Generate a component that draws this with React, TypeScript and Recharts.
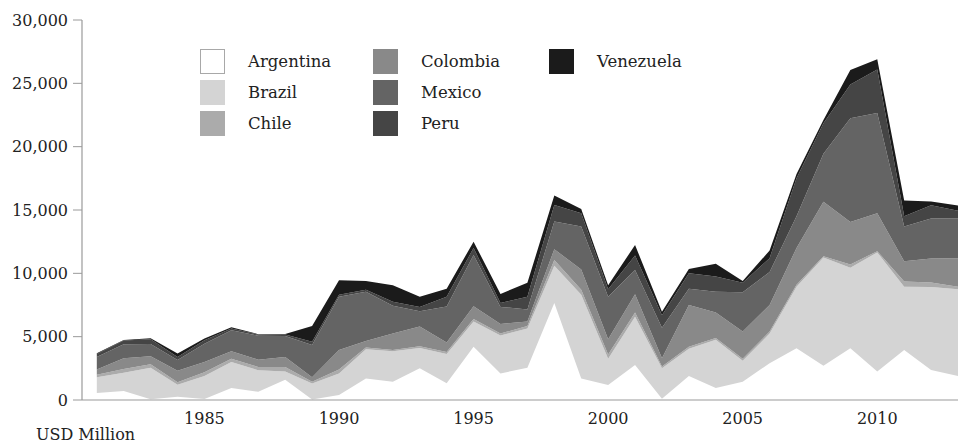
import React from 'react';
import { AreaChart, Area, XAxis, YAxis, Legend } from 'recharts';

const years = [1981, 1982, 1983, 1984, 1985, 1986, 1987, 1988, 1989, 1990, 1991, 1992, 1993, 1994, 1995, 1996, 1997, 1998, 1999, 2000, 2001, 2002, 2003, 2004, 2005, 2006, 2007, 2008, 2009, 2010, 2011, 2012, 2013];

const argentina = [550, 720, 50, 250, 70, 950, 650, 1600, 30, 400, 1700, 1450, 2500, 1330, 4200, 2100, 2550, 7650, 1700, 1180, 2760, 100, 1900, 950, 1450, 2900, 4080, 2700, 4080, 2250, 3950, 2370, 1900];
const brazil = [1250, 1430, 2500, 950, 1830, 2050, 1700, 650, 1270, 1700, 2300, 2400, 1600, 2300, 2000, 3000, 3100, 2950, 6600, 2070, 3820, 2400, 2150, 3800, 1650, 2350, 4870, 8550, 6370, 9400, 5000, 6550, 6850];
const chile = [200, 300, 270, 200, 300, 250, 250, 350, 150, 300, 150, 100, 150, 150, 200, 150, 200, 450, 400, 350, 320, 150, 150, 150, 150, 150, 150, 100, 250, 100, 400, 350, 200];
const colombia = [400, 850, 630, 900, 800, 600, 580, 800, 350, 1550, 500, 1300, 1550, 750, 1000, 750, 350, 850, 1600, 1200, 1450, 650, 3300, 2000, 2150, 2100, 2900, 4300, 3350, 3000, 1600, 1900, 2250];
const mexico = [1000, 1100, 970, 850, 1450, 1650, 1900, 1650, 2550, 4200, 3900, 2200, 1200, 2850, 4050, 1350, 950, 2200, 3400, 3350, 1910, 2400, 1280, 1650, 3100, 2600, 2500, 3800, 8200, 7900, 2750, 3150, 3150];
const peru = [240, 290, 370, 250, 270, 150, 80, 130, 250, 150, 150, 300, 350, 770, 550, 300, 1000, 1300, 1050, 600, 1140, 1000, 1220, 1200, 750, 1100, 3000, 2400, 2650, 3450, 800, 1050, 600];
const venezuela = [60, 50, 80, 280, 130, 90, 40, 40, 1250, 1150, 700, 1300, 800, 630, 500, 720, 1100, 750, 330, 300, 840, 270, 350, 1000, 150, 600, 350, 250, 1150, 800, 1250, 300, 400];

const xTicks = [1985, 1990, 1995, 2000, 2005, 2010];
const yTicks = [0, 5000, 10000, 15000, 20000, 25000, 30000];

const series = [
  { key: 'Argentina', values: argentina, color: '#ffffff', border: '#a8a8a8' },
  { key: 'Brazil', values: brazil, color: '#d4d4d4', border: '#d4d4d4' },
  { key: 'Chile', values: chile, color: '#ababab', border: '#ababab' },
  { key: 'Colombia', values: colombia, color: '#898989', border: '#898989' },
  { key: 'Mexico', values: mexico, color: '#646464', border: '#646464' },
  { key: 'Peru', values: peru, color: '#454545', border: '#454545' },
  { key: 'Venezuela', values: venezuela, color: '#1b1b1b', border: '#1b1b1b' },
];

const data = years.map((y, i) => {
  const row: Record<string, number> = { year: y };
  series.forEach((s) => {
    row[s.key] = s.values[i];
  });
  return row;
});

const FONT = '"DejaVu Serif", serif';

const renderLegend = () => (
  <div
    style={{
      display: 'grid',
      gridTemplateRows: 'repeat(3, 31px)',
      gridAutoFlow: 'column',
      gridTemplateColumns: '173px 176px 160px',
      fontFamily: FONT,
      fontSize: 16.5,
      color: '#222',
    }}
  >
    {series.map((s) => (
      <div key={s.key} style={{ display: 'flex', alignItems: 'center', height: 31 }}>
        <span
          style={{
            display: 'inline-block',
            width: 25,
            height: 25,
            boxSizing: 'border-box',
            background: s.color,
            border: `1px solid ${s.border}`,
          }}
        />
        <span style={{ marginLeft: 23 }}>{s.key}</span>
      </div>
    ))}
  </div>
);

export default function App() {
  return (
    <div style={{ position: 'absolute', left: 0, top: 0, width: 960, height: 444, background: '#fff' }}>
      <AreaChart width={960} height={444} data={data} margin={{ top: 20, right: 2, bottom: 0, left: 0 }}>
        <XAxis
          dataKey="year"
          type="number"
          domain={[1980.45, 2013]}
          ticks={xTicks}
          tickLine={false}
          tickSize={0}
          tickMargin={13}
          height={44}
          axisLine={{ stroke: '#9a9a9a', strokeWidth: 1.2 }}
          tick={{ fill: '#222', fontSize: 16, fontFamily: FONT }}
          allowDataOverflow
        />
        <YAxis
          domain={[0, 30000]}
          ticks={yTicks}
          width={82}
          tickSize={9}
          tickMargin={5}
          interval={0}
          axisLine={{ stroke: '#9a9a9a', strokeWidth: 1.2 }}
          tickLine={{ stroke: '#9a9a9a' }}
          tick={{ fill: '#222', fontSize: 16, fontFamily: FONT }}
          tickFormatter={(v: number) => v.toLocaleString('en-US')}
        />
        <Legend
          layout="horizontal"
          verticalAlign="middle"
          align="center"
          content={renderLegend}
          wrapperStyle={{ position: 'absolute', left: 200, top: 46, width: 520 }}
        />
        {series.map((s) => (
          <Area
            key={s.key}
            type="linear"
            dataKey={s.key}
            stackId="1"
            stroke="none"
            fill={s.color}
            fillOpacity={1}
            isAnimationActive={false}
            activeDot={false}
            dot={false}
          />
        ))}
      </AreaChart>
      <div
        style={{
          position: 'absolute',
          left: 36,
          top: 426,
          fontFamily: FONT,
          fontSize: 16,
          color: '#222',
          whiteSpace: 'nowrap',
          lineHeight: '18px',
        }}
      >
        USD Million
      </div>
    </div>
  );
}
